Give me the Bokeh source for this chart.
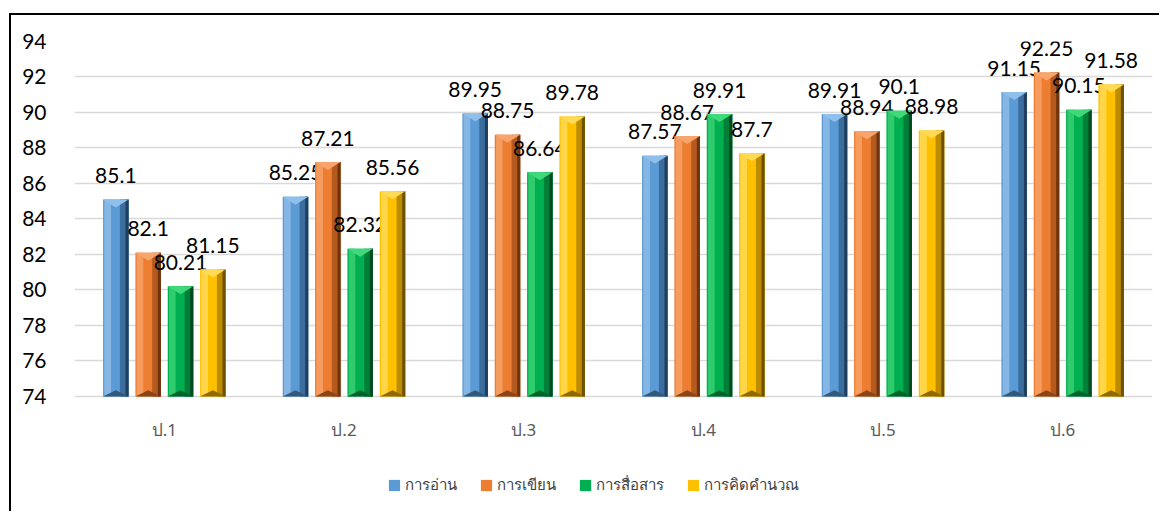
from bokeh.plotting import figure
from bokeh.models import Range1d, FixedTicker, Legend, LegendItem, ColumnDataSource
from bokeh.core.properties import value
from bokeh.embed import file_html
from bokeh.resources import INLINE

# ---- data ----
categories = ["ป.1", "ป.2", "ป.3", "ป.4", "ป.5", "ป.6"]
series_names = ["การอ่าน", "การเขียน", "การสื่อสาร", "การคิดคำนวณ"]
reading = [85.1, 85.25, 89.95, 87.57, 89.91, 91.15]
writing = [82.1, 87.21, 88.75, 88.67, 88.94, 92.25]
communication = [80.21, 82.32, 86.64, 89.91, 90.1, 90.15]
calculation = [81.15, 85.56, 89.78, 87.7, 88.98, 91.58]
y_ticks = [74, 76, 78, 80, 82, 84, 86, 88, 90, 92, 94]

series_values = [reading, writing, communication, calculation]

# ---- styling ----
# (main, light, dark, darkest, top bevel, bottom bevel)
palettes = [
    ("#5B9BD5", "#86B6E4", "#3B6E9E", "#203F5E", "#8FC0EC", "#34597D"),
    ("#ED7D31", "#F59C5E", "#B45A1E", "#6E3410", "#F7A56C", "#8A4518"),
    ("#00B050", "#2FCB6C", "#007F38", "#004A20", "#3FD97A", "#00632B"),
    ("#FFC000", "#FFD64A", "#BD8C00", "#6E5100", "#FFDA55", "#8F6A00"),
]
LABEL_FONT = "Lato"
THAI_FONT = "Noto Sans"

y_min, y_max = y_ticks[0], y_ticks[-1]
n = len(categories)
bar_w = 0.142
pitch = 0.18
# the frame extends below the 74 baseline, leaving room for category labels and legend
y_view_start = 67.69

p = figure(
    width=1150, height=498,
    x_range=Range1d(-0.5, n - 0.5), y_range=Range1d(y_view_start, y_max),
    output_backend="svg", toolbar_location=None,
    min_border_left=63, min_border_right=9, min_border_top=26, min_border_bottom=5,
)
p.styles = {
    "position": "relative", "top": "13px", "left": "9px",
    "border-left": "2px solid black", "border-top": "2px solid black",
}
p.outline_line_color = None
p.background_fill_color = "white"
p.border_fill_color = "white"

p.xgrid.visible = False
p.ygrid.grid_line_color = "#D9D9D9"
p.ygrid.grid_line_width = 1.5

p.yaxis.ticker = FixedTicker(ticks=y_ticks)
p.yaxis.axis_line_color = None
p.yaxis.major_tick_line_color = None
p.yaxis.minor_tick_line_color = None
p.yaxis.major_label_text_font = LABEL_FONT
p.yaxis.major_label_text_font_size = "21px"
p.yaxis.major_label_text_color = "#000000"
p.yaxis.major_label_standoff = 22

p.xaxis.ticker = FixedTicker(ticks=list(range(n)))
p.xaxis.major_label_overrides = {i: c for i, c in enumerate(categories)}
p.xaxis.fixed_location = y_min
p.xaxis.axis_line_color = None
p.xaxis.major_tick_line_color = None
p.xaxis.minor_tick_line_color = None
p.xaxis.major_label_text_font = THAI_FONT
p.xaxis.major_label_text_font_size = "17px"
p.xaxis.major_label_text_color = "#595959"
p.xaxis.major_label_standoff = 16

legend_items = []
for k, (name, vals) in enumerate(zip(series_names, series_values)):
    main, light, dark, darkest, topc, botc = palettes[k]
    off = (k - (len(series_names) - 1) / 2) * pitch
    xs = [i + off for i in range(n)]
    src = ColumnDataSource(dict(x=xs, top=vals, label=[str(v) for v in vals]))
    base = p.vbar(x="x", top="top", bottom=y_min, width=bar_w, source=src,
                  fill_color=main, line_color=None)
    # left highlight
    p.vbar(x=[x - bar_w / 2 + bar_w * 0.18 for x in xs], top=vals, bottom=y_min,
           width=bar_w * 0.26, fill_color=light, line_color=None)
    # right shade
    p.vbar(x=[x + bar_w / 2 - bar_w * 0.17 for x in xs], top=vals, bottom=y_min,
           width=bar_w * 0.34, fill_color=dark, line_color=None)
    p.vbar(x=[x + bar_w / 2 - bar_w * 0.06 for x in xs], top=vals, bottom=y_min,
           width=bar_w * 0.12, fill_color=darkest, line_color=None)
    # top bevel (down-pointing triangle) and bottom bevel
    tri_h = 0.45
    p.patches(
        xs=[[x - bar_w / 2, x + bar_w / 2, x] for x in xs],
        ys=[[v, v, v - tri_h] for v in vals],
        fill_color=topc, line_color=None,
    )
    p.patches(
        xs=[[x - bar_w / 2, x + bar_w / 2, x] for x in xs],
        ys=[[y_min, y_min, y_min + 0.35] for _ in vals],
        fill_color=botc, line_color=None,
    )
    p.text(x="x", y="top", text="label", source=src,
           text_font=value(LABEL_FONT), text_font_size="21px",
           text_color="#000000", text_align="center", text_baseline="middle",
           y_offset=-24)
    legend_items.append(LegendItem(label=name, renderers=[base]))

legend = Legend(
    items=legend_items, orientation="horizontal", location=(313, 11),
    border_line_color=None, background_fill_alpha=0,
    label_text_font=THAI_FONT, label_text_font_size="15px",
    label_text_color="#404040", glyph_width=14, glyph_height=14,
    spacing=22, padding=4, margin=0, label_standoff=4,
)
p.add_layout(legend)

open("out.html", "w").write(file_html(p, INLINE))
